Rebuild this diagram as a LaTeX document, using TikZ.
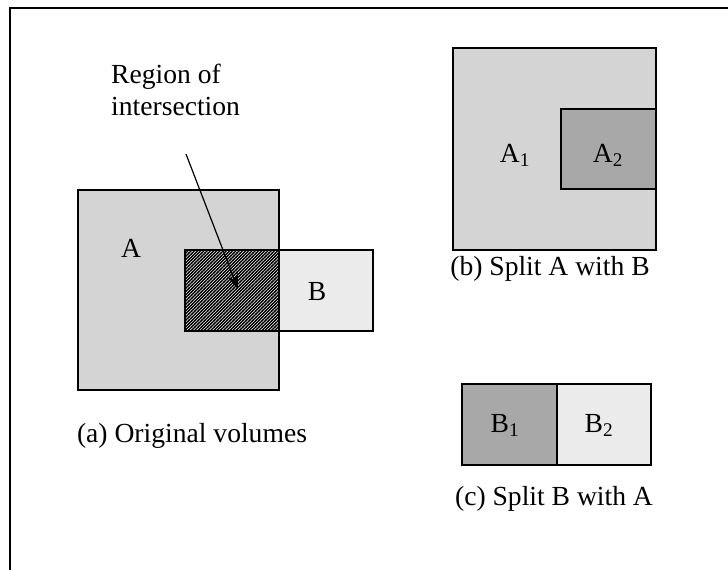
\documentclass[tikz,border=0pt]{standalone}
\usepackage{fontspec}
\setmainfont{Liberation Serif}
\usetikzlibrary{arrows.meta,patterns}

% dense north-east hatching for the overlap
\pgfdeclarepatternformonly{densehatch}{\pgfqpoint{-1pt}{-1pt}}{\pgfqpoint{4.2pt}{4.2pt}}{\pgfqpoint{3.2pt}{3.2pt}}{%
  \pgfsetlinewidth{1.25pt}%
  \pgfpathmoveto{\pgfqpoint{-1pt}{-1pt}}%
  \pgfpathlineto{\pgfqpoint{4.2pt}{4.2pt}}%
  \pgfusepath{stroke}}

\definecolor{volA}{gray}{0.83}
\definecolor{volB}{gray}{0.92}
\definecolor{volsplit}{gray}{0.66}

\tikzset{
  vol/.style={draw=black, line width=1.3pt},
  volA/.style={vol, fill=volA},
  volB/.style={vol, fill=volB},
  volsplit/.style={vol, fill=volsplit},
  overlap/.style={vol, fill=white, pattern=densehatch, pattern color=black},
  lbl/.style={inner sep=0pt, anchor=base, font=\fontsize{27.6}{32}\selectfont},
  caption/.style={lbl},
}

\begin{document}
\begin{tikzpicture}[x=1pt, y=-1pt]
  \useasboundingbox (0,0) rectangle (728,570);

  % outer frame, running off the page on the right and bottom
  \draw[line width=2pt] (730,8) -- (10,8) -- (10,572);

  % (a) original volumes
  \path[volA] (78,190) rectangle (279,390);
  \path[volB] (185,250) rectangle (373,331);
  \path[overlap] (185,250) rectangle (279,331);
  \draw[vol] (185,250) rectangle (279,331);
  \node[lbl] (labA) at (131,257) {A};
  \node[lbl] (labB) at (317,300) {B};
  \node[lbl, anchor=base west, align=left] (region) at (111,115) {Region of\\intersection};
  \coordinate (arrtail) at (186,154);
  \coordinate (arrtip) at (238,289);
  \draw[line width=1.2pt, -{Stealth[length=15pt, width=11pt]}] (arrtail) -- (arrtip);
  \node[caption] (capA) at (192,442) {(a) Original volumes};

  % (b) A split with B
  \path[volA] (453,48) rectangle (656,250);
  \path[volsplit] (561,109) rectangle (656,189);
  \node[lbl] (labA1) at (515,162) {A\textsubscript{1}};
  \node[lbl] (labA2) at (608,162) {A\textsubscript{2}};
  \node[caption] (capB) at (550,275) {(b) Split A with B};

  % (c) B split with A
  \path[volsplit] (462,384) rectangle (557,465);
  \path[volB] (557,384) rectangle (651,465);
  \node[lbl] (labB1) at (505,432) {B\textsubscript{1}};
  \node[lbl] (labB2) at (599,432) {B\textsubscript{2}};
  \node[caption] (capC) at (554,505) {(c) Split B with A};
\end{tikzpicture}
\end{document}
